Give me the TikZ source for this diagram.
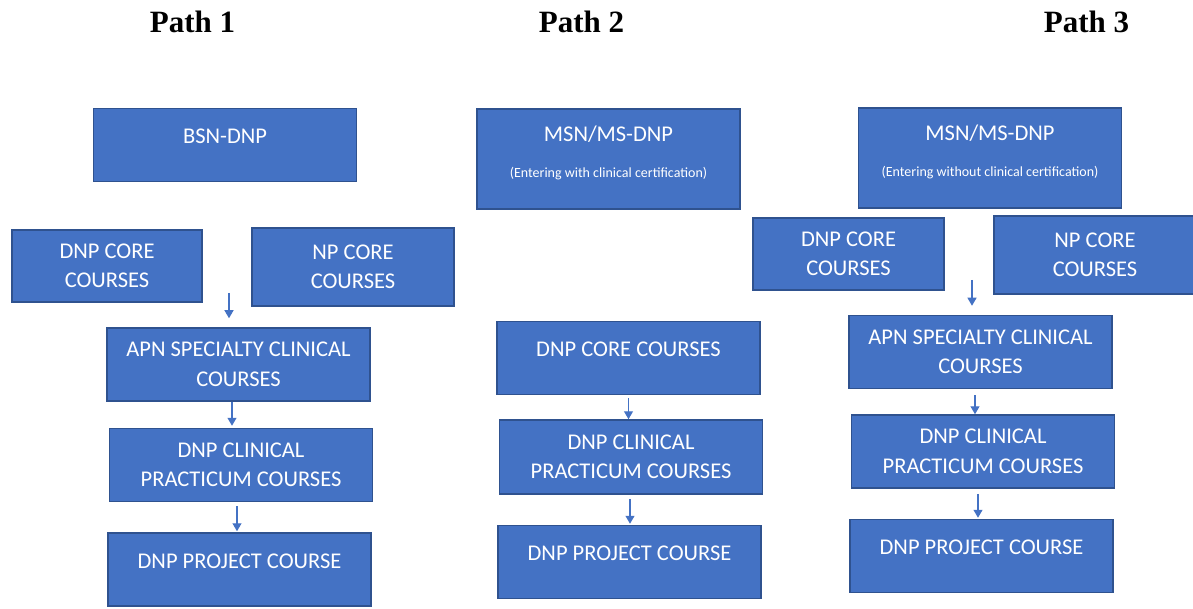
\documentclass[tikz,border=0pt]{standalone}
\usepackage{fontspec}
\setmainfont{Carlito}
\newfontfamily\titlefont{Liberation Serif}
\usepackage{xcolor}
\usetikzlibrary{arrows.meta,positioning}
\definecolor{boxblue}{HTML}{4472C4}
\definecolor{boxedge}{HTML}{2F528F}
\newcommand\entrynote{\fontsize{14}{16}\selectfont}

\begin{document}
\begin{tikzpicture}[
        x=1pt, y=-1pt,
        course/.style={rectangle, draw=boxedge, line width=1.5pt, fill=boxblue, text=white, align=center, inner sep=0pt, minimum width=263pt, minimum height=73pt, font=\fontsize{22.5}{29.5}\selectfont},
        oneline/.style={text height=15pt, text depth=18pt},
        core/.style={course, minimum width=190pt, minimum height=72pt},
        entry/.style={course, minimum height=100pt, text depth=15pt},
        pathtitle/.style={anchor=base, font=\titlefont\bfseries\fontsize{31}{36}\selectfont},
        arrow/.style={-{Triangle[width=9pt,length=8pt]}, draw=boxblue, line width=1.2pt}
    ]
    \useasboundingbox (0,0) rectangle (1193,609);

    % Titles
    \node[pathtitle] (title1) at (192.5,33) {Path 1};
    \node[pathtitle] (title2) at (581.5,33) {Path 2};
    \node[pathtitle] (title3) at (1086.5,33) {Path 3};

    % Path 1
    \node[course, oneline] (bsn) at (225,145) {BSN-DNP};
    \node[core] (core1) at (107,266) {DNP CORE\\COURSES};
    \node[core, minimum width=202pt, minimum height=78pt] (np1) at (353,267) {NP CORE\\COURSES};
    \node[course] (apn1) at (238.5,364.5) {APN SPECIALTY CLINICAL\\COURSES};
    \node[course, below=26pt of apn1, xshift=2.5pt] (clin1) {DNP CLINICAL\\PRACTICUM COURSES};
    \node[course, oneline, below=30pt of clin1, xshift=-1.5pt] (proj1) {DNP PROJECT COURSE};

    % Path 2
    \node[entry] (msn2) at (608.5,159) {MSN/MS-DNP\\[6pt]{\entrynote (Entering with clinical certification)}};
    \node[course, oneline] (core2) at (628.5,358) {DNP CORE COURSES};
    \node[course, minimum height=74pt, below=24pt of core2, xshift=2.5pt] (clin2) {DNP CLINICAL\\PRACTICUM COURSES};
    \node[course, oneline, below=30pt of clin2, xshift=-1.5pt] (proj2) {DNP PROJECT COURSE};

    % Path 3
    \node[entry] (msn3) at (990,158) {MSN/MS-DNP\\[6pt]{\entrynote (Entering without clinical certification)}};
    \node[core, minimum width=191pt] (core3) at (848.5,254) {DNP CORE\\COURSES};
    \node[core, minimum width=202pt, minimum height=78pt] (np3) at (1095,255) {NP CORE\\COURSES};
    \node[course] (apn3) at (980.5,352) {APN SPECIALTY CLINICAL\\COURSES};
    \node[course, below=25pt of apn3, xshift=2.5pt] (clin3) {DNP CLINICAL\\PRACTICUM COURSES};
    \node[course, oneline, below=30pt of clin3, xshift=-1.5pt] (proj3) {DNP PROJECT COURSE};

    % Arrows
    \coordinate (fork1) at (229,293);
    \coordinate (fork3) at (972,280);
    \draw[arrow, shorten >=9pt] (fork1) -- (fork1 |- apn1.north);
    \draw[arrow, shorten >=2pt] ([xshift=-6.5pt]apn1.south) -- ([xshift=-6.5pt]apn1.south |- clin1.north);
    \draw[arrow, shorten <=4pt, shorten >=1pt] ([xshift=-4pt]clin1.south) -- ([xshift=-4pt]clin1.south |- proj1.north);

    \draw[arrow, shorten <=3pt] (core2.south) -- (core2.south |- clin2.north);
    \draw[arrow, shorten <=4pt, shorten >=1pt] ([xshift=-1pt]clin2.south) -- ([xshift=-1pt]clin2.south |- proj2.north);

    \draw[arrow, shorten >=9pt] (fork3) -- (fork3 |- apn3.north);
    \draw[arrow, shorten <=6pt] ([xshift=-5.5pt]apn3.south) -- ([xshift=-5.5pt]apn3.south |- clin3.north);
    \draw[arrow, shorten <=5pt, shorten >=1pt] ([xshift=-5pt]clin3.south) -- ([xshift=-5pt]clin3.south |- proj3.north);

\end{tikzpicture}
\end{document}
